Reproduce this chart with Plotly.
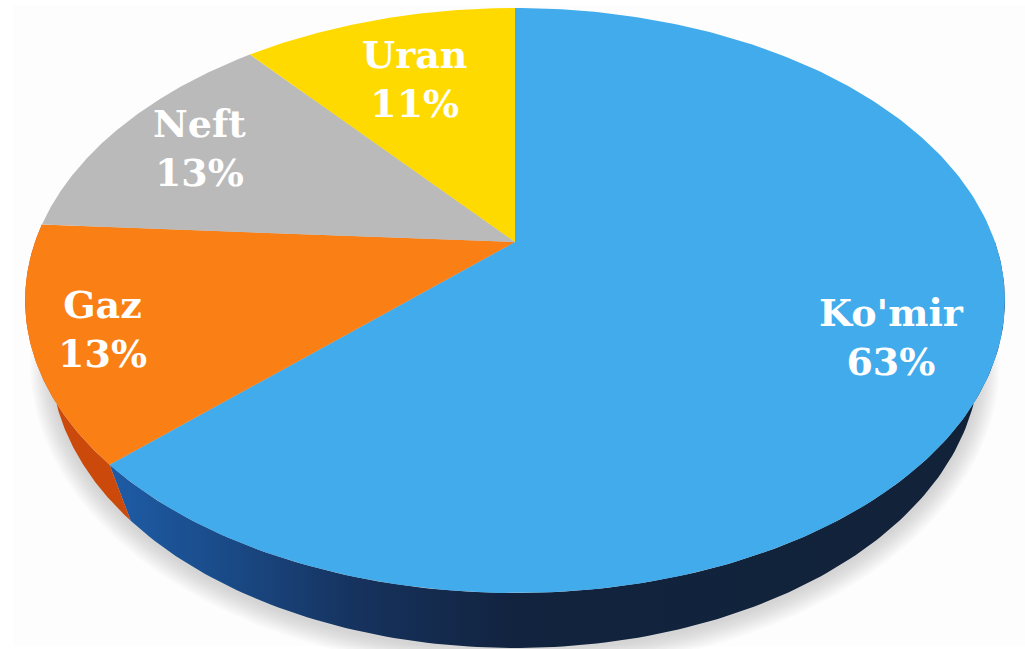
import numpy as np
import plotly.graph_objects as go

# Energy mix shares, drawn clockwise from twelve o'clock
labels = ["Ko'mir", "Gaz", "Neft", "Uran"]
shares = [63, 13, 13, 11]
top_colors = ["#41ABEB", "#FA7F14", "#BABABA", "#FFDA00"]
label_radius = [0.80, 0.86, 0.79, 0.70]

W, H = 1025, 649
CX = 515
TILT = 0.2  # perspective strength of the tilted disc
TOP = dict(r=480.0, s=280.8, y0=242.0)
BASE = dict(r=455.0, s=278.4, y0=300.0)


def project(theta, rad=1.0, disc=TOP):
    """Map a polar position on the disc (clockwise from north) to page pixels."""
    u = rad * np.sin(theta)
    v = rad * np.cos(theta)
    d = 1 + TILT * v
    return CX + disc["r"] * u / d, disc["y0"] - disc["s"] * v / d


def arc(a, b, n=160):
    return np.linspace(a, b, n)


fractions = np.array(shares) / sum(shares)
edges = np.concatenate([[0], np.cumsum(fractions)]) * 2 * np.pi

fig = go.Figure()


def poly(x, y, color=None, opacity=1.0, gradient=None):
    kw = dict(fillgradient=gradient) if gradient else dict(fillcolor=color)
    fig.add_trace(go.Scatter(x=list(x), y=list(y), mode="lines", fill="toself",
                             line=dict(width=0), opacity=opacity,
                             hoverinfo="skip", showlegend=False, **kw))


# Soft drop shadow under the disc
full = arc(0, 2 * np.pi, 360)
for grow in np.linspace(22, 2, 11):
    shadow = dict(r=BASE["r"] + grow * 0.9, s=BASE["s"] + grow * 0.8, y0=BASE["y0"] + 2)
    sx, sy = project(full, disc=shadow)
    poly(sx, sy, color="#8a8a8a", opacity=0.035)

# Side wall of the disc, visible along the lower rim
wall = arc(np.pi / 2, edges[1])
wx1, wy1 = project(wall)
wx2, wy2 = project(wall[::-1], disc=BASE)
poly(np.r_[wx1, wx2], np.r_[wy1, wy2], gradient=dict(
    type="horizontal",
    colorscale=[[0, "#1E5CA6"], [0.12, "#1A4C8A"], [0.27, "#16335F"],
                [0.45, "#12233F"], [1, "#112238"]]))
wall = arc(edges[1], edges[2])
wx1, wy1 = project(wall)
wx2, wy2 = project(wall[::-1], disc=BASE)
poly(np.r_[wx1, wx2], np.r_[wy1, wy2], color="#CB4A0B")

# Top face slices
for a, b, c in zip(edges[:-1], edges[1:], top_colors):
    px, py = project(arc(a, b, 240))
    poly(np.r_[CX, px, CX], np.r_[TOP["y0"], py, TOP["y0"]], color=c)

# Slice captions
for name, share, a, b, rad in zip(labels, shares, edges[:-1], edges[1:], label_radius):
    tx, ty = project((a + b) / 2, rad)
    fig.add_annotation(x=float(tx), y=float(ty), text=f"{name}<br>{share}%", showarrow=False,
                       font=dict(family="DejaVu Serif", size=38, color="#FFFFFF", weight="bold"),
                       align="center")

fig.update_layout(
    width=W, height=H, margin=dict(l=0, r=0, t=0, b=0),
    paper_bgcolor="#FFFFFF", plot_bgcolor="#FFFFFF", showlegend=False,
    xaxis=dict(range=[0, W], visible=False, fixedrange=True),
    yaxis=dict(range=[H, 0], visible=False, fixedrange=True),
    shapes=[dict(type="rect", xref="x", yref="y", x0=13, y0=5, x1=W, y1=646,
                 fillcolor="#FDFDFD", line=dict(width=0), layer="below")],
)

fig.write_html("out.html")
